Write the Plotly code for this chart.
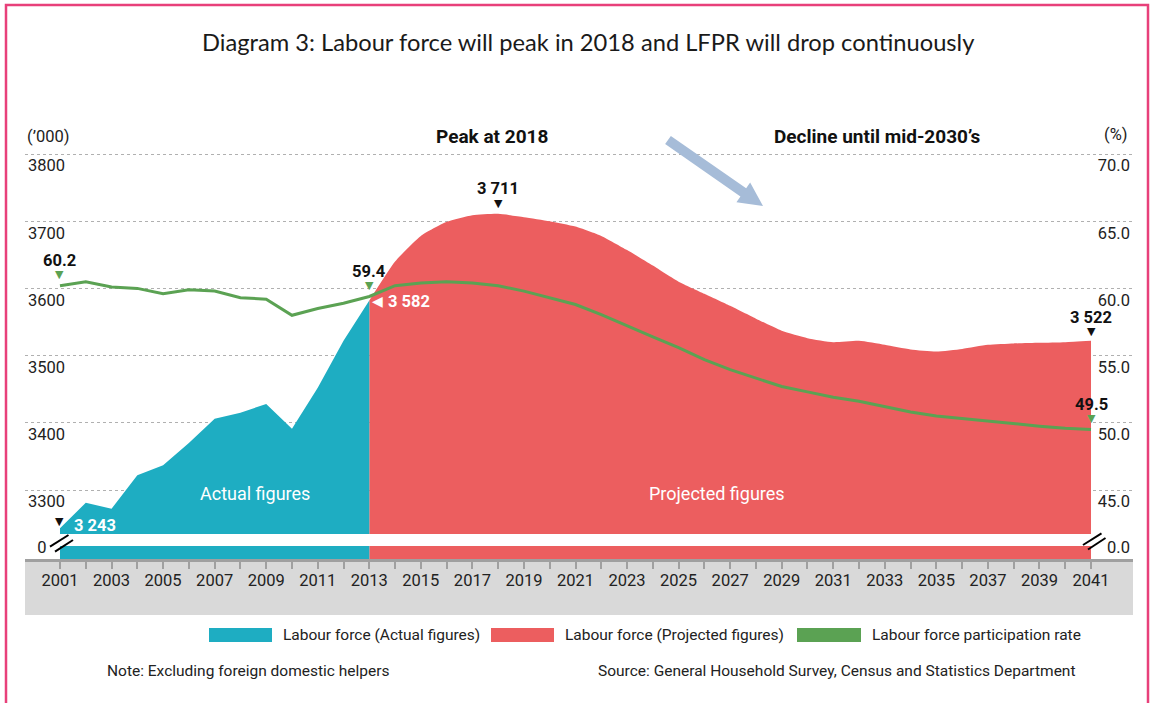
import numpy as np
import plotly.graph_objects as go

# ---------------- data ----------------
years_actual = list(range(2001, 2014))
lf_actual = [3243, 3281, 3272, 3322, 3337, 3370, 3406, 3415, 3428, 3391, 3452, 3522, 3582]

years_proj = list(range(2013, 2042))
lf_proj = [3582, 3640, 3678, 3699, 3709, 3711, 3706, 3700, 3692, 3678, 3657, 3634, 3610,
           3592, 3574, 3555, 3537, 3526, 3520, 3522, 3516, 3509, 3506, 3510, 3516, 3518,
           3519, 3520, 3522]

years_all = list(range(2001, 2042))
lfpr = [60.2, 60.5, 60.1, 60.0, 59.6, 59.9, 59.8, 59.3, 59.2, 58.0, 58.5, 58.9, 59.4,
        60.2, 60.4, 60.5, 60.4, 60.2, 59.8, 59.3, 58.8, 58.05, 57.2, 56.4, 55.6, 54.7,
        53.95, 53.3, 52.7, 52.3, 51.9, 51.6, 51.2, 50.8, 50.5, 50.3, 50.1, 49.9, 49.75,
        49.6, 49.5]

left_ticks = [3300, 3400, 3500, 3600, 3700, 3800]
right_ticks = [45.0, 50.0, 55.0, 60.0, 65.0, 70.0]
x_tick_years = list(range(2001, 2043))

# ---------------- style ----------------
FONT = "Roboto, Liberation Sans, sans-serif"
TFONT = "Lato, Open Sans, sans-serif"
CYAN = "#1eadc2"
RED = "#ec5e5f"
GREEN = "#5ba253"
W, H = 1153, 703
PL, PR, PT, PB = 25, 1133, 148, 559      # plot area in pixels
Y3800_PX = 154.0                         # pixel row of the 3800 / 70.0 gridline
PX_PER_UNIT = 0.672                      # pixels per ('000)

def px(x):
    return (x - PL) / (PR - PL)

def py(y):
    return (PB - y) / (PB - PT)

Y_TOP = 3800 + (Y3800_PX - PT) / PX_PER_UNIT
Y_BOT = 3800 - (PB - Y3800_PX) / PX_PER_UNIT
def to_right(v):
    return 70 + (v - 3800) / 20.0

def val_at_px(ypix):
    return 3800 - (ypix - Y3800_PX) / PX_PER_UNIT

X_LEFT = 2001 - (60 - PL) / 25.78
X_RIGHT = 2041 + (PR - 1091) / 25.78

zero_tick_left = val_at_px(536)
band_top = val_at_px(534)
band_bot = val_at_px(546)

fig = go.Figure()

# actual figures live on the companion axes (x2 / y3) that carry the left labels
fig.add_trace(go.Scatter(x=years_actual, y=lf_actual, mode="lines", fill="tozeroy",
                         xaxis="x2", yaxis="y3",
                         fillcolor=CYAN, line=dict(width=0, color=CYAN),
                         name="Labour force (Actual figures)", showlegend=False))
fig.add_trace(go.Scatter(x=years_proj, y=lf_proj, mode="lines", fill="tozeroy",
                         fillcolor=RED, line=dict(width=0, color=RED, shape="spline", smoothing=0.5),
                         name="Labour force (Projected figures)", showlegend=False))
fig.add_trace(go.Scatter(x=years_all, y=lfpr, mode="lines", yaxis="y2",
                         line=dict(width=3, color=GREEN),
                         name="Labour force participation rate", showlegend=False))

shapes = []
annotations = []

# border
shapes.append(dict(type="rect", xref="paper", yref="paper", x0=px(6), x1=px(1148),
                   y0=py(720), y1=py(5), line=dict(color="#e8407a", width=2.5),
                   fillcolor="rgba(0,0,0,0)", layer="below"))
# grey strip under x axis
shapes.append(dict(type="rect", xref="paper", yref="paper", x0=0, x1=1, y0=py(615), y1=0,
                   line=dict(width=0), fillcolor="#d9d9d9", layer="below"))
# axis break band (only across the filled area)
shapes.append(dict(type="rect", xref="x", yref="y", x0=years_actual[0], x1=years_proj[-1],
                   y0=band_bot, y1=band_top, line=dict(width=0), fillcolor="white",
                   layer="above"))
# break marks
for (x0, y0, x1, y1) in [(50, 546.7, 68.5, 535), (55, 551.7, 73, 540),
                         (1083, 545, 1101.5, 533.3), (1088, 549.5, 1105.5, 538)]:
    shapes.append(dict(type="line", xref="paper", yref="paper", x0=px(x0), y0=py(y0),
                       x1=px(x1), y1=py(y1), line=dict(color="black", width=2), layer="above"))

# blue arrow (polygon)
tail = np.array([668.0, 140.0]); tip = np.array([763.0, 206.0])
d = (tip - tail) / np.linalg.norm(tip - tail)
n = np.array([-d[1], d[0]])
base = tip - 24 * d
pts = [tail + 5 * n, base + 5 * n, base + 12 * n, tip, base - 12 * n, base - 5 * n, tail - 5 * n]
path = "M " + " L ".join(f"{px(p[0]):.5f},{py(p[1]):.5f}" for p in pts) + " Z"
shapes.append(dict(type="path", xref="paper", yref="paper", path=path,
                   fillcolor="#a6bcd8", line=dict(width=0), layer="above"))

# legend (manual, rectangles)
legend_items = [(209, 272, 281, CYAN, "Labour force (Actual figures)"),
                (491, 554, 563, RED, "Labour force (Projected figures)"),
                (797, 861, 870, GREEN, "Labour force participation rate")]
for x0, x1, xt, col, label in legend_items:
    shapes.append(dict(type="rect", xref="paper", yref="paper", x0=px(x0), x1=px(x1),
                       y0=py(642), y1=py(628), line=dict(width=0), fillcolor=col))
    annotations.append(dict(xref="paper", yref="paper", x=px(xt), y=py(635), text=label,
                            showarrow=False, xanchor="left", yanchor="middle",
                            font=dict(family=FONT, size=15.5, color="#222")))

def txt(x, y, text, size=17, bold=False, color="#222", xanchor="center", family=FONT):
    annotations.append(dict(xref="paper", yref="paper", x=px(x), y=py(y),
                            text=f"<b>{text}</b>" if bold else text, showarrow=False,
                            xanchor=xanchor, yanchor="middle",
                            font=dict(family=family, size=size, color=color)))

txt(588, 42, "Diagram 3: Labour force will peak in 2018 and LFPR will drop continuously",
    size=23.7, family=TFONT, color="#1a1a1a")
txt(25, 136, "(’000)", size=16.5, xanchor="left")
txt(1129, 134, "(%)", size=16.5, xanchor="right")
txt(492, 136, "Peak at 2018", size=19, bold=True, color="#111")
txt(877, 136, "Decline until mid-2030’s", size=19, bold=True, color="#111")
txt(255, 493, "Actual figures", size=18, color="white")
txt(717, 493, "Projected figures", size=18, color="white")
txt(105, 671, "Note: Excluding foreign domestic helpers", size=15.5, xanchor="left")
txt(1078, 671, "Source: General Household Survey, Census and Statistics Department", size=15.5,
    xanchor="right")

# data-anchored labels
def dlab(x, y, text, yref="y", xshift=0, yshift=0, color="#111", size=16.5, bold=True,
         xanchor="center"):
    annotations.append(dict(xref="x", yref=yref, x=x, y=y, text=f"<b>{text}</b>" if bold else text,
                            showarrow=False, xshift=xshift, yshift=yshift, xanchor=xanchor,
                            yanchor="middle", font=dict(family=FONT, size=size, color=color)))

def tri(x, y, yref="y", color="#111", glyph="▼", xshift=0, yshift=10, size=11):
    annotations.append(dict(xref="x", yref=yref, x=x, y=y, text=glyph, showarrow=False,
                            xshift=xshift, yshift=yshift, xanchor="center", yanchor="middle",
                            font=dict(family="DejaVu Sans", size=size, color=color)))

def fmt_k(v):
    return f"{v // 1000} {v % 1000:03d}"

for i in [0, years_all.index(2013), len(years_all) - 1]:
    tri(years_all[i], lfpr[i], yref="y2", color=GREEN, yshift=11)
    dlab(years_all[i], lfpr[i], f"{lfpr[i]:.1f}", yref="y2", yshift=25)

ipk = int(np.argmax(lf_proj))
tri(years_proj[ipk], lf_proj[ipk], yshift=10)
dlab(years_proj[ipk], lf_proj[ipk], fmt_k(lf_proj[ipk]), yshift=25)
tri(years_proj[-1], lf_proj[-1], yshift=9)
dlab(years_proj[-1], lf_proj[-1], fmt_k(lf_proj[-1]), yshift=23)
tri(years_actual[0], lf_actual[0], yshift=7)
dlab(years_actual[0], lf_actual[0], fmt_k(lf_actual[0]), xshift=12, yshift=3, color="white",
     xanchor="left")
tri(years_actual[-1], lf_actual[-1], color="white", glyph="◀", xshift=8, yshift=0, size=14)
dlab(years_actual[-1], lf_actual[-1], fmt_k(lf_actual[-1]), xshift=17, yshift=-1,
     color="white", xanchor="left")

TICKFONT = dict(family=FONT, size=16.5, color="#222")
fig.update_layout(
    width=W, height=H,
    margin=dict(l=PL, r=W - PR, t=PT, b=H - PB, pad=0),
    paper_bgcolor="white", plot_bgcolor="rgba(0,0,0,0)",
    showlegend=False,
    shapes=shapes, annotations=annotations,
    xaxis=dict(range=[X_LEFT, X_RIGHT], tickmode="array", tickvals=x_tick_years,
               ticktext=[str(y) if (y % 2 == 1 and y <= 2041) else "" for y in x_tick_years],
               ticks="outside", ticklen=7, tickwidth=2, tickcolor="#a0a0a0",
               showline=True, linecolor="#a0a0a0", linewidth=3, showgrid=False, zeroline=False,
               tickfont=TICKFONT, ticklabelstandoff=-3, ticklabeloverflow="allow",
               automargin=False, fixedrange=True),
    xaxis2=dict(range=[X_LEFT, X_RIGHT], overlaying="x", anchor="y3", side="bottom",
                showticklabels=False, ticks="", showline=False, showgrid=False,
                zeroline=False),
    yaxis=dict(range=[Y_BOT, Y_TOP], tickmode="array", tickvals=left_ticks,
               showticklabels=False, ticks="", showline=False, zeroline=False,
               showgrid=True, gridcolor="#b0b0b0", gridwidth=1, griddash="dot",
               automargin=False),
    yaxis3=dict(range=[Y_BOT, Y_TOP], overlaying="y", anchor="x2", side="left",
                tickmode="array", tickvals=[zero_tick_left] + left_ticks,
                ticktext=["\u20070"] + [str(v) for v in left_ticks],
                ticklabelposition="inside bottom", ticks="", showline=False, zeroline=False,
                showgrid=False, tickfont=TICKFONT, automargin=False),
    yaxis2=dict(range=[to_right(Y_BOT), to_right(Y_TOP)], overlaying="y", side="right",
                anchor="x", tickmode="array",
                tickvals=[to_right(zero_tick_left)] + right_ticks,
                ticktext=["0.0"] + [f"{v:.1f}" for v in right_ticks],
                ticklabelposition="inside bottom", ticks="", showline=False, zeroline=False,
                showgrid=False, tickfont=TICKFONT, automargin=False),
)

fig.write_html("out.html", config={"displayModeBar": False},
               post_script="document.body.style.margin='0';document.body.style.overflow='hidden';")
